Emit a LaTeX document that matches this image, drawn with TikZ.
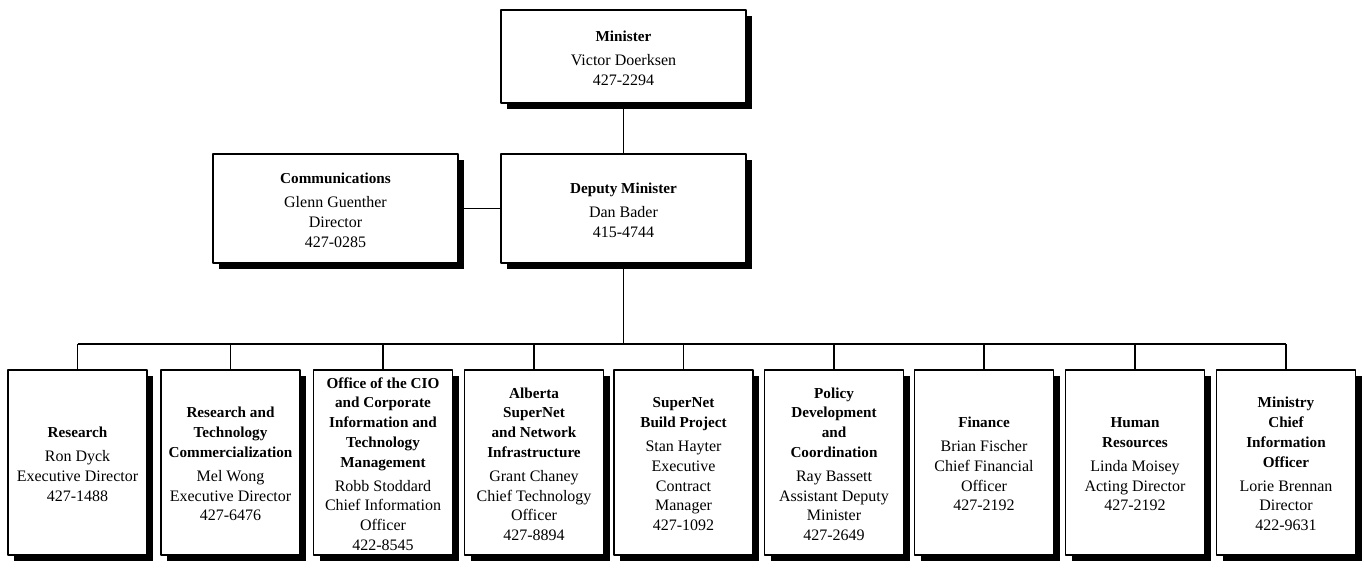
\documentclass[tikz,border=0pt]{standalone}
\usepackage{fontspec}
\setmainfont{Liberation Serif}
\usetikzlibrary{shadows}
\newcommand{\boxbody}{\fontsize{8}{9.9}\selectfont}
\newcommand{\boxtitle}[1]{{\fontsize{7.6}{9.9}\selectfont\bfseries\begin{tabular}[b]{@{}c@{}}#1\end{tabular}}}
\begin{document}
\begin{tikzpicture}[x=0.5pt, y=-0.5pt, line join=round,
	box/.style={draw, line width=0.6pt, fill=white, align=center, font=\boxbody,
		inner xsep=1pt, inner ysep=0pt,
		drop shadow={shadow xshift=3pt, shadow yshift=-3pt, opacity=1, fill=black}},
	topbox/.style={box, minimum width=122.5pt, minimum height=46.5pt},
	midbox/.style={box, minimum width=122.5pt, minimum height=54.5pt},
	lowbox/.style={box, minimum width=69.5pt, minimum height=92.5pt},
	link/.style={line width=0.6pt}]
	\useasboundingbox (0,0) rectangle (1364,569);
	% top of the chart
	\node[topbox] (min) at (623.5,56.5) {\boxtitle{Minister}\\[2pt]Victor Doerksen\\427-2294};
	\node[midbox] (dep) at (623.5,208.5) {\boxtitle{Deputy Minister}\\[2pt]Dan Bader\\415-4744};
	\node[midbox] (com) at (335.5,208.5) {\boxtitle{Communications}\\[2pt]Glenn Guenther\\Director\\427-0285};
	% divisions
	\node[lowbox] (res) at (77.5,462.5) {\boxtitle{Research}\\[2pt]Ron Dyck\\Executive Director\\427-1488};
	\node[lowbox] (rtc) at (230.5,462.5) {\boxtitle{Research and\\Technology\\Commercialization}\\[2pt]Mel Wong\\Executive Director\\427-6476};
	\node[lowbox] (cio) at (383,462.5) {\boxtitle{Office of the CIO\\and Corporate\\Information and\\Technology\\Management}\\[2pt]Robb Stoddard\\Chief Information\\Officer\\422-8545};
	\node[lowbox] (asn) at (534,462.5) {\boxtitle{Alberta\\SuperNet\\and Network\\Infrastructure}\\[2pt]Grant Chaney\\Chief Technology\\Officer\\427-8894};
	\node[lowbox] (sbp) at (683.5,462.5) {\boxtitle{SuperNet\\Build Project}\\[2pt]Stan Hayter\\Executive\\Contract\\Manager\\427-1092};
	\node[lowbox] (pdc) at (834,462.5) {\boxtitle{Policy\\Development\\and\\Coordination}\\[2pt]Ray Bassett\\Assistant Deputy\\Minister\\427-2649};
	\node[lowbox] (fin) at (984,462.5) {\boxtitle{Finance}\\[2pt]Brian Fischer\\Chief Financial\\Officer\\427-2192};
	\node[lowbox] (hr) at (1135,462.5) {\boxtitle{Human\\Resources}\\[2pt]Linda Moisey\\Acting Director\\427-2192};
	\node[lowbox] (mcio) at (1286,462.5) {\boxtitle{Ministry\\Chief\\Information\\Officer}\\[2pt]Lorie Brennan\\Director\\422-9631};
	% lines
	\coordinate (bus) at (623.5,344);
	\draw[link] (min) -- (dep);
	\draw[link] (com) -- (dep);
	\draw[link] (dep) -- (bus);
	\draw[link] (res.north |- bus) -- (mcio.north |- bus);
	\foreach \n in {res,rtc,cio,asn,sbp,pdc,fin,hr,mcio}
		\draw[link] (\n.north) -- (\n.north |- bus);
\end{tikzpicture}
\end{document}
